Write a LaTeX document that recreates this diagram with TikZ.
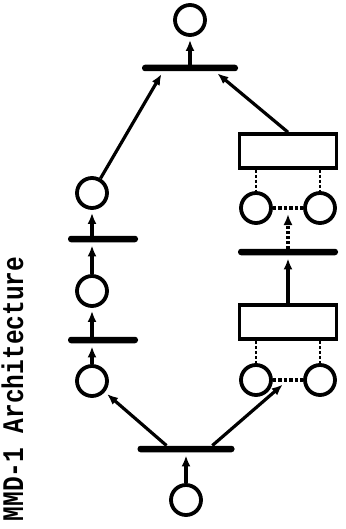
\documentclass[tikz,border=0pt]{standalone}
\usepackage{fontspec}
\setmonofont{Liberation Mono}
\usetikzlibrary{calc,arrows.meta,positioning}

\begin{document}
\begin{tikzpicture}[x=1pt,y=-1pt,
  place/.style={circle,draw,line width=3.8pt,minimum size=30pt,inner sep=0pt},
  trans/.style={rectangle,fill,rounded corners=3pt,minimum height=6.5pt,inner sep=0pt},
  unit/.style={rectangle,draw,line width=3.5pt,minimum width=97pt,minimum height=34pt,inner sep=0pt},
  arc/.style={line width=3.2pt,-{Latex[length=11pt,width=9pt]},shorten >=3pt},
  tie/.style={line width=2.5pt,densely dashed},
  link/.style={line width=3.5pt,dotted}]

\useasboundingbox (0,0) rectangle (345,529);

% title
\node[rotate=90,anchor=base,font=\fontsize{24.5}{25}\selectfont\ttfamily\bfseries] (title) at (23,389) {\scalebox{1}[1.22]{MMD-1 Architecture}};

% top
\node[place] (top) at (190,20) {};
\node[trans,minimum width=96pt] (tjoin) at (190,68) {};

% left branch
\node[place] (l1) at (92,193) {};
\node[trans,minimum width=70pt] (lt1) at (103,239) {};
\node[place] (l2) at (92,291) {};
\node[trans,minimum width=70pt] (lt2) at (103,340) {};
\node[place] (l3) at (92,381) {};

% right branch
\node[unit] (u1) at (288,151) {};
\node[place] (r1a) at (256,208) {};
\node[place] (r1b) at (320,208) {};
\node[trans,minimum width=100pt] (rt) at (288,252) {};
\node[unit] (u2) at (288,322) {};
\node[place] (r2a) at (256,380) {};
\node[place] (r2b) at (320,380) {};

% bottom
\node[trans,minimum width=97pt] (tfork) at (186,449) {};
\node[place] (bot) at (186,500) {};

\coordinate (updot) at ($(r1a)!0.5!(r1b)$);
\coordinate (lowdot) at ($(r2a)!0.5!(r2b)$);

% fork
\draw[arc] (bot) -- (tfork);
\draw[arc] ($(tfork.north west)!0.3!(tfork.north east)$) -- (l3);
\draw[arc,shorten >=7pt] ($(tfork.north west)!0.77!(tfork.north east)$) -- (lowdot);

% left column
\draw[arc] (l3) -- (l3 |- lt2.south);
\draw[arc] (lt2.north -| l2) -- (l2);
\draw[arc] (l2) -- (l2 |- lt1.south);
\draw[arc] (lt1.north -| l1) -- (l1);
\draw[arc] (l1) -- ($(tjoin.south west)!0.22!(tjoin.south east)$);

% right column
\foreach \u/\a/\b in {u1/r1a/r1b,u2/r2a/r2b} {
  \draw[tie] (\u.south -| \a) -- (\a);
  \draw[tie] (\u.south -| \b) -- (\b);
  \draw[link] (\a) -- (\b);
}
\draw[arc] (u2) -- (rt);
\draw[arc,densely dashed,shorten >=6pt] (rt) -- (updot);
\draw[arc] (u1.north) -- ($(tjoin.south west)!0.76!(tjoin.south east)$);

% join
\draw[arc] (tjoin) -- (top);

\end{tikzpicture}
\end{document}
